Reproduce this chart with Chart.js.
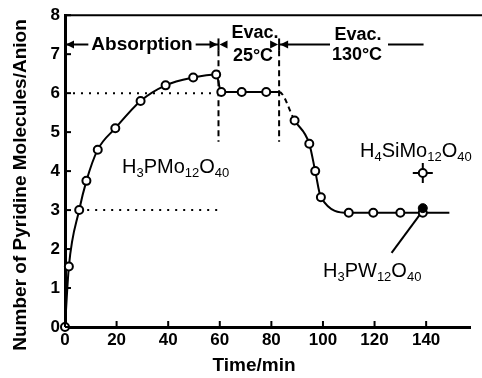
<!DOCTYPE html>
<html>
<head>
<meta charset="utf-8">
<script src="https://cdn.jsdelivr.net/npm/chart.js@4/dist/chart.umd.min.js"></script>
<style>
  html, body { margin: 0; padding: 0; background: #fff; }
  #wrap { width: 482px; height: 378px; }
</style>
</head>
<body>
<div id="wrap"><canvas id="pyridineChart" width="482" height="378"></canvas></div>
<script>
// H3PMo12O40 uptake curve (time in min, molecules per anion)
const timeMo = [0, 1.5, 5.5, 8.3, 12.7, 19.5, 29.3, 39, 49.7, 58.6, 60.6, 68.5, 78, 83, 89, 94.7, 97, 99.2, 110, 119.5, 130, 138.7, 149];
const pyridineMo = [0, 1.55, 3.0, 3.75, 4.55, 5.1, 5.8, 6.2, 6.4, 6.48, 6.03, 6.03, 6.03, 6.03, 5.3, 4.7, 4.0, 3.33, 2.93, 2.93, 2.93, 2.93, 2.93];
const hiddenMarkers = [13, 22];   // line vertices without a circle
const dashedFrom = 13;            // 83 -> 89 min segment is dashed

// single points for the other two acids
const timeW = [138.7];
const pyridineW = [3.05];
const timeSi = [138.7];
const pyridineSi = [3.95];

// reference lines
const guide6X = [0, 60];
const guide6Y = [6, 6];
const guide3X = [5.5, 59];
const guide3Y = [3, 3];
const evac25X = [59.5, 59.5];
const evac130X = [83, 83];
const evacLineY = [7.1, 4.75];
const leaderX = [126.6, 138];
const leaderY = [1.9, 2.92];

const xTicks = [0, 20, 40, 60, 80, 100, 120, 140];
const yTicks = [0, 1, 2, 3, 4, 5, 6, 7, 8];

const toPts = (xs, ys) => xs.map((x, i) => ({x: x, y: ys[i]}));

function drawChem(ctx, parts, x, y, big, small) {
    // parts: [text, isSub, text, isSub ...], x is left edge, y is baseline
    let cx = x;
    parts.forEach(p => {
        ctx.font = (p.sub ? small : big) + 'px "Liberation Sans", Arial, sans-serif';
        ctx.fillText(p.t, cx, p.sub ? y + 4 : y);
        cx += ctx.measureText(p.t).width;
    });
}

function arrowHead(ctx, x, y, dir) {
    ctx.beginPath();
    ctx.moveTo(x, y);
    ctx.lineTo(x - dir * 8, y - 4);
    ctx.lineTo(x - dir * 8, y + 4);
    ctx.closePath();
    ctx.fill();
}

const annotationsPlugin = {
    id: 'annotationsPlugin',
    afterDraw(chart) {
        const {ctx, chartArea, scales: {x, y}} = chart;
        ctx.save();
        ctx.fillStyle = '#000';
        ctx.strokeStyle = '#000';

        // top frame line
        ctx.lineWidth = 2;
        ctx.beginPath();
        ctx.moveTo(chartArea.left, y.getPixelForValue(8));
        ctx.lineTo(chart.width, y.getPixelForValue(8));
        ctx.stroke();

        // inward ticks
        ctx.lineWidth = 2;
        yTicks.forEach(v => {
            const py = y.getPixelForValue(v);
            ctx.beginPath();
            ctx.moveTo(x.getPixelForValue(0), py);
            ctx.lineTo(x.getPixelForValue(0) + 6, py);
            ctx.stroke();
        });
        xTicks.forEach(v => {
            const px = x.getPixelForValue(v);
            ctx.beginPath();
            ctx.moveTo(px, y.getPixelForValue(0));
            ctx.lineTo(px, y.getPixelForValue(0) - 6);
            ctx.stroke();
        });

        // phase arrows
        const ay = y.getPixelForValue(7.25);
        const x0 = x.getPixelForValue(0);
        const x60 = x.getPixelForValue(59.5);
        const x83 = x.getPixelForValue(83);
        ctx.lineWidth = 2;
        [x0, x60, x83].forEach(px => {
            ctx.beginPath();
            ctx.moveTo(px, ay - 6);
            ctx.lineTo(px, ay + 6);
            ctx.stroke();
        });
        ctx.font = 'bold 19px "Liberation Sans", Arial, sans-serif';
        ctx.textBaseline = 'middle';
        ctx.textAlign = 'center';
        ctx.fillText('Absorption', 142, ay);
        const absW = ctx.measureText('Absorption').width;
        ctx.beginPath();
        ctx.moveTo(x0, ay); ctx.lineTo(142 - absW / 2 - 3, ay);
        ctx.moveTo(142 + absW / 2 + 3, ay); ctx.lineTo(x60, ay);
        ctx.stroke();
        arrowHead(ctx, x0 + 1, ay, -1);
        arrowHead(ctx, x60 - 1, ay, 1);
        arrowHead(ctx, x60 + 1, ay, -1);
        arrowHead(ctx, x83 - 1, ay, 1);
        arrowHead(ctx, x83 + 1, ay, -1);

        ctx.font = 'bold 18px "Liberation Sans", Arial, sans-serif';
        ctx.fillText('Evac.', 255, ay - 11);
        ctx.fillText('25\u00b0C', 253, ay + 12);
        ctx.fillText('Evac.', 358, ay - 9);
        ctx.fillText('130\u00b0C', 357, ay + 11);
        ctx.beginPath();
        ctx.moveTo(x83, ay); ctx.lineTo(330, ay);
        ctx.moveTo(388, ay); ctx.lineTo(x.getPixelForValue(139), ay);
        ctx.stroke();

        // compound labels
        ctx.textAlign = 'left';
        ctx.textBaseline = 'alphabetic';
        drawChem(ctx, [{t: 'H'}, {t: '3', sub: 1}, {t: 'PMo'}, {t: '12', sub: 1}, {t: 'O'}, {t: '40', sub: 1}], 122, 173, 20, 13);
        drawChem(ctx, [{t: 'H'}, {t: '4', sub: 1}, {t: 'SiMo'}, {t: '12', sub: 1}, {t: 'O'}, {t: '40', sub: 1}], 360, 157, 20, 13);
        drawChem(ctx, [{t: 'H'}, {t: '3', sub: 1}, {t: 'PW'}, {t: '12', sub: 1}, {t: 'O'}, {t: '40', sub: 1}], 323, 277, 20, 13);

        // axis titles
        ctx.font = 'bold 19px "Liberation Sans", Arial, sans-serif';
        ctx.textAlign = 'center';
        ctx.textBaseline = 'middle';
        ctx.fillText('Time/min', 254, 366);
        ctx.translate(21, 185);
        ctx.rotate(-Math.PI / 2);
        ctx.fillText('Number of Pyridine Molecules/Anion', 0, 0);
        ctx.restore();
    }
};

const lineStyle = (color, dash) => ({
    borderColor: color, borderWidth: 2, borderDash: dash,
    pointRadius: 0, showLine: true, fill: false
});

new Chart(document.getElementById('pyridineChart').getContext('2d'), {
    type: 'scatter',
    data: {
        datasets: [
            {
                label: 'H3PW12O40',
                data: toPts(timeW, pyridineW),
                pointRadius: 4.5, pointBackgroundColor: '#000', pointBorderColor: '#000'
            },
            {
                label: 'H4SiMo12O40 circle',
                data: toPts(timeSi, pyridineSi),
                pointRadius: 4, pointBackgroundColor: '#fff', pointBorderColor: '#000', pointBorderWidth: 2
            },
            {
                label: 'H4SiMo12O40 bars',
                data: toPts(timeSi, pyridineSi),
                pointStyle: 'cross', pointRadius: 10, pointBorderColor: '#000', pointBorderWidth: 2
            },
            {
                label: 'H3PMo12O40',
                data: toPts(timeMo, pyridineMo),
                showLine: true,
                clip: false,
                borderColor: '#000', borderWidth: 2,
                cubicInterpolationMode: 'monotone',
                pointRadius: ctx => hiddenMarkers.includes(ctx.dataIndex) ? 0 : 4,
                pointBackgroundColor: '#fff', pointBorderColor: '#000', pointBorderWidth: 2,
                segment: {
                    borderDash: ctx => ctx.p0DataIndex === dashedFrom ? [5, 4] : undefined
                }
            },
            Object.assign({label: 'guide6', data: toPts(guide6X, guide6Y)}, lineStyle('#000', [2, 6])),
            Object.assign({label: 'guide3', data: toPts(guide3X, guide3Y)}, lineStyle('#000', [2, 6])),
            Object.assign({label: 'evac25', data: toPts(evac25X, evacLineY)}, lineStyle('#000', [6, 4])),
            Object.assign({label: 'evac130', data: toPts(evac130X, evacLineY)}, lineStyle('#000', [6, 4])),
            Object.assign({label: 'leader', data: toPts(leaderX, leaderY)}, lineStyle('#000', []))
        ]
    },
    options: {
        responsive: false,
        animation: false,
        devicePixelRatio: 1,
        layout: { padding: { top: 15, right: 0, left: 0, bottom: 0 } },
        plugins: { legend: { display: false }, tooltip: { enabled: false } },
        scales: {
            x: {
                type: 'linear', min: 0, max: 157,
                afterFit: s => { s.height = 51; },
                afterBuildTicks: s => { s.ticks = xTicks.map(v => ({value: v})); },
                ticks: {
                    color: '#000', padding: 3,
                    font: { family: '"Liberation Sans", Arial, sans-serif', size: 17, weight: 'bold' }
                },
                grid: { display: false, drawTicks: false },
                border: { display: true, width: 3, color: '#000' }
            },
            y: {
                min: 0, max: 8,
                afterFit: s => { s.width = 65; },
                afterBuildTicks: s => { s.ticks = yTicks.map(v => ({value: v})); },
                ticks: {
                    color: '#000', padding: 5,
                    font: { family: '"Liberation Sans", Arial, sans-serif', size: 17, weight: 'bold' }
                },
                grid: { display: false, drawTicks: false },
                border: { display: true, width: 3, color: '#000' }
            }
        }
    },
    plugins: [annotationsPlugin]
});
</script>
</body>
</html>
